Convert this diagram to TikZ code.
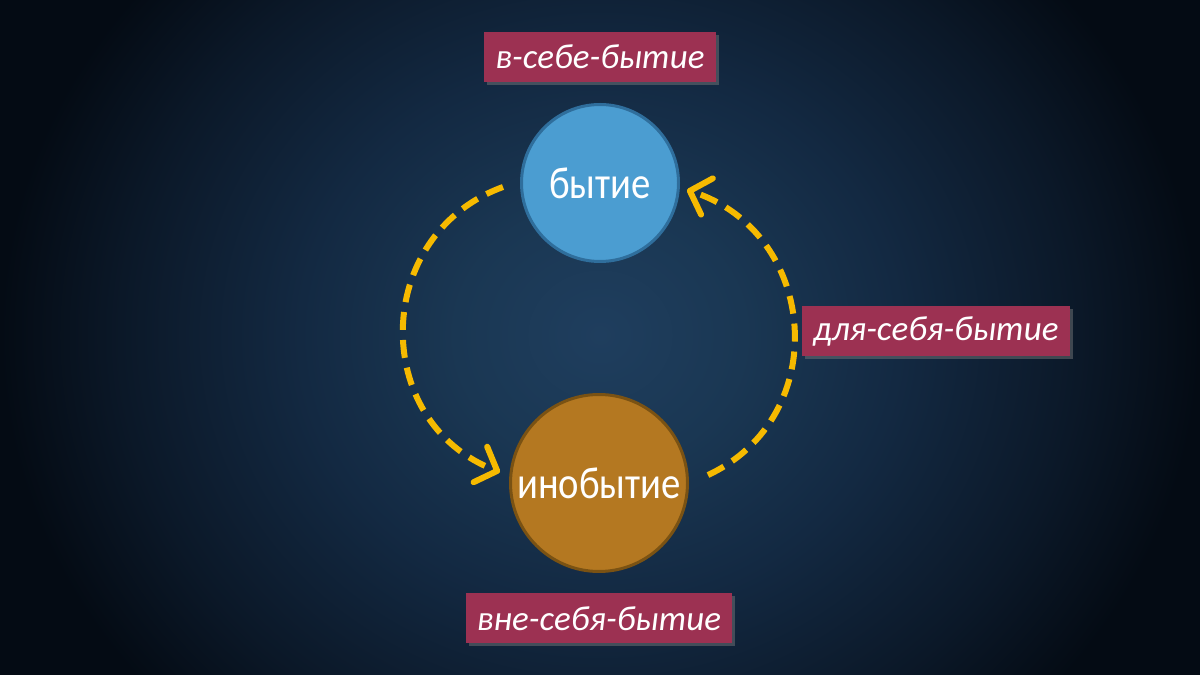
\documentclass[tikz,border=0pt]{standalone}
\usepackage{fontspec}
\setmainfont{Carlito}
\newfontfamily\statefont[FakeStretch=0.86]{Carlito}
\usepackage{xcolor}
\usetikzlibrary{shapes,arrows.meta,positioning,calc,shadows}

\definecolor{bgcenter}{HTML}{1F3E5E}
\definecolor{bginner}{HTML}{1A3753}
\definecolor{bgmid}{HTML}{132942}
\definecolor{bgouter}{HTML}{0B1828}
\definecolor{bgedge}{HTML}{040B14}
\definecolor{beingblue}{HTML}{4B9DD1}
\definecolor{beingbluedark}{HTML}{2F6E9C}
\definecolor{otherbrown}{HTML}{B47821}
\definecolor{otherbrowndark}{HTML}{7A5213}
\definecolor{tagred}{HTML}{9C3152}
\definecolor{flowyellow}{HTML}{F6BA00}

\pgfdeclareradialshading{bgglow}{\pgfpoint{0bp}{0bp}}{color(0bp)=(bgcenter); color(12bp)=(bginner); color(25bp)=(bgmid); color(40bp)=(bgouter); color(50bp)=(bgedge)}

\begin{document}
\begin{tikzpicture}[
    x=0.5pt, y=0.5pt,
    state/.style={circle, draw, line width=1.5pt, text=white, font=\statefont\fontsize{22.5}{26}\selectfont, inner sep=0pt},
    tagbox/.style={rectangle, fill=tagred, text=white, font=\itshape\fontsize{17.5}{21}\selectfont, minimum height=25pt, inner xsep=5.5pt, drop shadow={shadow xshift=1.5pt, shadow yshift=-1.5pt, opacity=0.45}},
    flow/.style={line width=3pt, flowyellow, dash pattern=on 9pt off 5pt, -{Straight Barb[length=9pt,width=19pt,line width=3pt,round]}}
]

% Background
\begin{scope}
\clip (0,0) rectangle (1200,675);
\fill[bgedge] (0,0) rectangle (1200,675);
\node[inner sep=0pt] (glow) at (600,340) {\resizebox{600pt}{540pt}{\pgfuseshading{bgglow}}};
\end{scope}
\useasboundingbox (0,0) rectangle (1200,675);

% Circles
\node[state, fill=beingblue, draw=beingbluedark, minimum size=78.5pt] (being) at (600,492) {бытие};
\node[state, fill=otherbrown, draw=otherbrowndark, minimum size=88.5pt] (other) at (599,192) {инобытие};

% Labels
\node[tagbox, above=10.5pt of being] (insich) {в-себе-бытие};
\node[tagbox, below=10pt of other] (aussersich) {вне-себя-бытие};
\node[tagbox] (fuersich) at (936,344) {для-себя-бытие};

% Arrows
\draw[flow] ([xshift=-8.5pt,yshift=-2pt]being.west) to[out=200, in=159, looseness=1.25] ([xshift=-4.75pt,yshift=0.8pt]other.174);
\draw[flow] ([xshift=9.6pt,yshift=0.85pt]other.4) to[out=25, in=-18, looseness=1.24] ([xshift=3.65pt]being.-5);

\end{tikzpicture}
\end{document}
